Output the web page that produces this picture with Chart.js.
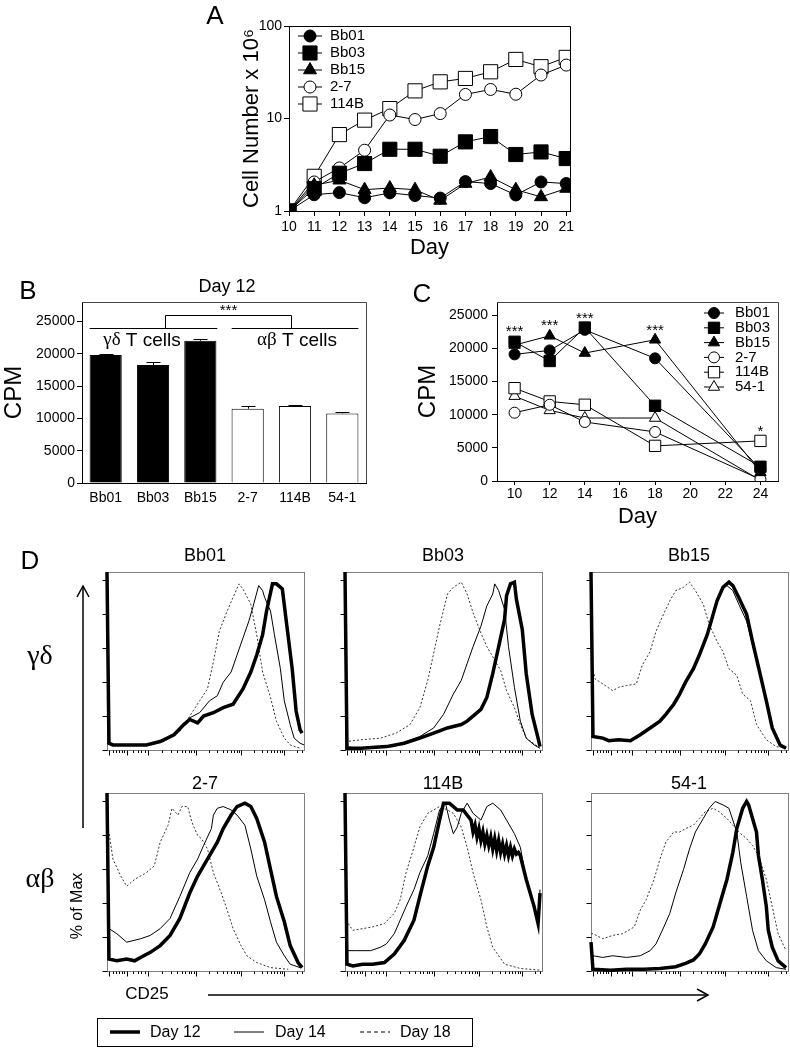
<!DOCTYPE html>
<html>
<head>
<meta charset="utf-8">
<script src="https://cdn.jsdelivr.net/npm/chart.js@4.4.0/dist/chart.umd.min.js"></script>
<style>
  body { margin:0; width:790px; height:1048px; position:relative; overflow:hidden; background:#fff;
         font-family:'Liberation Sans', Arial, sans-serif; color:#000; }
  canvas { position:absolute; }
  .t { position:absolute; transform:translate(-50%,-50%); white-space:nowrap; line-height:1; }
  .l { position:absolute; transform:translate(0,-50%); white-space:nowrap; line-height:1; }
  .serif { font-family:'Liberation Serif','Times New Roman',serif; }
  svg { position:absolute; left:0; top:0; }
</style>
</head>
<body>
<canvas id="chA" width="390" height="261" style="left:200px;top:0"></canvas>
<canvas id="chB" width="380" height="250" style="left:0;top:270px"></canvas>
<canvas id="chC" width="380" height="250" style="left:410px;top:280px"></canvas>
<canvas id="dBb01" width="207" height="188" style="left:99px;top:570px"></canvas>
<canvas id="dBb03" width="207" height="188" style="left:337px;top:570px"></canvas>
<canvas id="dBb15" width="207" height="188" style="left:583px;top:570px"></canvas>
<canvas id="d27" width="207" height="188" style="left:99px;top:791px"></canvas>
<canvas id="d114B" width="207" height="188" style="left:337px;top:791px"></canvas>
<canvas id="d541" width="207" height="188" style="left:583px;top:791px"></canvas>

<svg width="790" height="1048">
  <line x1="83" y1="828" x2="83" y2="586" stroke="#000" stroke-width="1.5"/>
  <polyline points="77,597 83,586 89,597" fill="none" stroke="#000" stroke-width="1.5"/>
  <line x1="208" y1="995" x2="708" y2="995" stroke="#000" stroke-width="1.5"/>
  <polyline points="697,989 708,995 697,1001" fill="none" stroke="#000" stroke-width="1.5"/>
  <rect x="97.5" y="1018.5" width="375" height="28" fill="none" stroke="#000" stroke-width="1"/>
  <line x1="110" y1="1032" x2="140" y2="1032" stroke="#000" stroke-width="3.5"/>
  <line x1="234" y1="1032" x2="264" y2="1032" stroke="#000" stroke-width="1"/>
  <line x1="360" y1="1032" x2="390" y2="1032" stroke="#000" stroke-width="1" stroke-dasharray="4,3"/>
</svg>

<div class="t" style="left:215px;top:15px;font-size:26px">A</div>
<div class="t" style="left:28px;top:290px;font-size:26px">B</div>
<div class="t" style="left:422px;top:293px;font-size:26px">C</div>
<div class="t" style="left:30px;top:560px;font-size:26px">D</div>

<div class="t" style="left:205px;top:555px;font-size:18px">Bb01</div>
<div class="t" style="left:443px;top:555px;font-size:18px">Bb03</div>
<div class="t" style="left:689px;top:555px;font-size:18px">Bb15</div>
<div class="t" style="left:205px;top:783px;font-size:18px">2-7</div>
<div class="t" style="left:443px;top:783px;font-size:18px">114B</div>
<div class="t" style="left:689px;top:783px;font-size:18px">54-1</div>

<div class="t serif" style="left:40px;top:655px;font-size:28px">γδ</div>
<div class="t serif" style="left:40px;top:878px;font-size:28px">αβ</div>
<div class="t" style="left:77px;top:906px;font-size:16px;transform:translate(-50%,-50%) rotate(-90deg)">% of Max</div>
<div class="t" style="left:147px;top:993px;font-size:17px">CD25</div>

<div class="l" style="left:150px;top:1032px;font-size:16px">Day 12</div>
<div class="l" style="left:275px;top:1032px;font-size:16px">Day 14</div>
<div class="l" style="left:400px;top:1032px;font-size:16px">Day 18</div>

<script>
// ---- Panel A: cell expansion (log scale) ----
const daysA = [10, 11, 12, 13, 14, 15, 16, 17, 18, 19, 20, 21];
const bb01A = [1, 1.5, 1.58, 1.39, 1.57, 1.47, 1.38, 2.08, 1.98, 1.49, 2.06, 1.98];
const bb03A = [1, 1.75, 2.56, 3.26, 4.65, 4.65, 3.91, 5.59, 6.38, 4.08, 4.35, 3.69];
const bb15A = [1, 1.9, 2.15, 1.7, 1.77, 1.7, 1.3, 1.98, 2.33, 1.7, 1.42, 1.75];
const c27A = [1, 2.06, 2.92, 4.54, 10.9, 9.75, 11.3, 18.2, 20.6, 18.3, 29.5, 37.8];
const c114bA = [1, 2.37, 6.7, 9.6, 12.8, 19.9, 24.9, 27.1, 32.0, 43.5, 36.3, 45.8];
const yTicksA = [1, 10, 100];

// ---- Panel B: Day 12 CPM ----
const catsB = ['Bb01', 'Bb03', 'Bb15', '2-7', '114B', '54-1'];
const cpmB = [19800, 18270, 22000, 11490, 11900, 10770];
const semB = [200, 450, 200, 450, 150, 250];
const yTicksB = [0, 5000, 10000, 15000, 20000, 25000];

// ---- Panel C: CPM over time ----
const daysC = [10, 12, 14, 18, 24];
const bb01C = [19100, 19700, 22800, 18500, 1800];
const bb03C = [21000, 18100, 23150, 11350, 2150];
const bb15C = [20500, 21900, 19300, 21300, 1300];
const c27C = [10300, 11500, 8900, 7400, 250];
const c114bC = [14000, 12000, 11500, 5300, 6050];
const c541C = [12800, 10650, 9500, 9500, 100];
const xTicksC = [10, 12, 14, 16, 18, 20, 22, 24];
const yTicksC = [0, 5000, 10000, 15000, 20000, 25000];
const starDaysC = [10, 12, 14, 18, 24];
const starCpmC = [23100, 24000, 25050, 23250, 8000];
const starTextC = ['***', '***', '***', '***', '*'];

// ---- Panel D: CD25 histograms, [channel %, % of max] ----
const bb01D12 = [[0,105],[1,4],[3,3],[10,3],[20,3],[27,5],[34,9],[39,15],[42,18],[46,16],[49,20],[54,22],[59,25],[64,27],[69,36],[73,46],[76,56],[79,68],[81,82],[84,98],[86,98],[89,95],[91,76],[94,48],[96,23],[98,12],[99,10]];
const bb01D14 = [[0,4],[3,3],[10,3],[20,3],[27,5],[34,9],[39,15],[42,19],[47,22],[52,29],[56,32],[59,40],[63,46],[66,56],[69,66],[72,76],[74,84],[77,97],[79,94],[80,90],[83,82],[85,68],[88,48],[90,29],[93,15],[95,7],[98,4],[100,3]];
const bb01D18 = [[0,4],[3,3],[12,3],[20,3.5],[29,5],[37,11],[42,20],[47,29],[51,36],[54,52],[57,70],[61,82],[64,90],[67,98],[69,95],[73,86],[76,68],[79,46],[83,31],[86,17],[90,7],[93,3],[98,1]];

const bb03D12 = [[0,105],[1,1],[8,1],[21,2],[30,4],[38,7],[45,10],[52,13],[59,15],[62,17],[65,20],[69,24],[72,31],[75,45],[78,61],[81,77],[82,91],[84,98],[86,99],[87,89],[90,71],[92,45],[95,21],[98,7],[99,2]];
const bb03D14 = [[0,2],[8,1],[13,1],[25,2],[31,5],[38,8],[45,13],[50,21],[55,33],[59,41],[62,51],[65,61],[69,73],[72,85],[75,92],[76,98],[78,94],[81,83],[83,61],[86,37],[89,17],[92,7],[96,3],[99,1]];
const bb03D18 = [[0,5],[1,5],[8,6],[18,7],[26,10],[33,15],[38,25],[42,41],[45,57],[48,73],[52,92],[55,96],[59,99],[62,92],[65,81],[69,69],[72,61],[75,55],[79,47],[82,35],[86,25],[89,15],[92,7],[98,2]];

const bb15D12 = [[0,105],[1,8],[6,7],[9,5.5],[14,6],[20,5.5],[25,9],[30,13],[35,17],[38,21],[42,27],[45,33],[48,40],[52,48],[55,56],[59,68],[62,80],[64,88],[67,96],[70,99],[72,97],[75,90],[79,80],[82,64],[86,44],[89,29],[92,13],[96,3],[99,1]];
const bb15D14 = [[0,8],[1,8],[6,7],[9,6],[14,6],[20,6],[25,9],[30,13],[35,17],[38,21],[42,26],[45,33],[48,40],[52,48],[55,57],[59,69],[62,81],[64,89],[67,95],[69,97],[72,94],[75,86],[79,76],[82,62],[86,43],[89,28],[92,13],[96,3],[99,1]];
const bb15D18 = [[0,54],[2,42],[6,39],[11,35],[14,37],[18,38],[23,39],[26,50],[30,58],[33,70],[36,78],[40,88],[43,94],[47,96],[50,99],[53,94],[57,86],[60,74],[64,64],[67,58],[70,48],[74,44],[77,33],[81,29],[84,15],[89,6],[94,2],[99,1]];

const c27D12 = [[0,105],[1,7],[5,6],[10,7],[14,6],[17,8],[22,11],[27,15],[32,21],[37,31],[42,46],[46,56],[49,62],[53,70],[56,76],[59,84],[63,92],[66,97],[70,99],[73,97],[76,90],[80,76],[83,60],[86,44],[90,29],[93,15],[97,5],[99,2]];
const c27D14 = [[0,25],[1,25],[5,22],[10,17],[17,19],[22,21],[27,25],[32,31],[37,44],[42,58],[46,66],[49,74],[53,84],[54,92],[56,96],[59,97],[63,95],[66,92],[70,86],[73,72],[76,56],[80,42],[83,29],[86,17],[90,9],[93,4],[98,2]];
const c27D18 = [[0,82],[1,82],[3,66],[7,56],[10,50],[14,54],[17,56],[20,58],[24,62],[27,76],[31,86],[33,96],[36,92],[38,97],[41,97],[43,88],[46,80],[48,78],[51,72],[54,58],[58,46],[61,36],[64,25],[68,15],[71,9],[76,5],[83,2],[92,1]];

const c114bD12 = [[0,105],[1,4],[4,3],[9,4],[14,4],[20,5],[25,10],[30,18],[35,30],[38,44],[42,62],[45,73],[48,89],[50,99],[53,99],[57,95],[60,95],[64,89],[65,82],[66,86],[67,79],[68,84],[69,77],[70,82],[71,75],[72,80],[73,74],[74,79],[75,72],[76,78],[77,71],[78,77],[79,70],[80,75],[81,69],[82,74],[83,68],[84,73],[85,68],[86,72],[87,69],[88,70],[89,68],[92,54],[96,38],[98,28],[99,46]];
const c114bD14 = [[0,12],[1,12],[6,12],[13,12],[18,14],[21,16],[25,22],[28,30],[31,38],[35,48],[38,58],[42,68],[45,81],[48,95],[51,99],[53,89],[55,81],[57,85],[59,93],[62,99],[65,93],[69,89],[72,97],[75,99],[79,95],[82,89],[86,81],[89,73],[92,54],[96,38],[98,30],[99,48]];
const c114bD18 = [[0,29],[1,29],[4,24],[9,25],[14,26],[20,28],[25,34],[28,42],[31,58],[35,73],[38,85],[42,93],[45,95],[48,97],[52,95],[55,93],[59,85],[62,73],[65,58],[69,42],[72,26],[75,14],[81,4],[89,1.5],[99,0.5]];

const c541D12 = [[0,17],[1,1],[10,0.5],[18,1],[27,1],[35,1.5],[43,2.5],[48,4.5],[52,6.5],[55,10],[58,16],[62,26],[65,38],[69,54],[72,70],[74,84],[77,96],[79,100],[80,98],[82,90],[84,82],[85,68],[87,54],[89,38],[90,24],[92,14],[95,6],[99,2]];
const c541D14 = [[0,9],[1,9],[6,8],[11,9],[18,8],[25,9],[30,12],[33,16],[37,26],[40,34],[43,46],[47,60],[50,72],[53,82],[57,90],[60,96],[63,100],[67,98],[70,96],[74,82],[76,64],[79,44],[82,24],[85,12],[89,6],[94,2],[99,1]];
const c541D18 = [[0,22],[1,22],[6,19],[11,21],[16,22],[22,26],[25,36],[28,42],[32,54],[35,66],[38,76],[42,82],[45,82],[48,84],[52,86],[55,90],[58,94],[62,96],[65,94],[69,90],[72,86],[75,82],[79,78],[82,74],[85,68],[89,54],[92,38],[95,22],[99,12]];

const yTicksD = [0, 20, 40, 60, 80, 100];
const xMajorD = [1, 10, 21, 45, 68, 90];
const xMinorD = [3, 4.5, 6, 7.5, 8.5, 13, 15.5, 17.5, 19.5, 28, 32.5, 35.5, 38, 39.5, 41.5, 42.5, 44,
                 52, 56, 59, 61, 63, 64.5, 66, 67, 74.5, 78.5, 81, 83.5, 85, 86.5, 88, 89, 96.5, 99];

Chart.defaults.font.family = "'Liberation Sans', Arial, sans-serif";
Chart.defaults.color = '#000';
const FONT = "'Liberation Sans', Arial, sans-serif";

const markers = {
  bb01: { pointStyle: 'circle', fill: '#000' },
  bb03: { pointStyle: 'rect', fill: '#000' },
  bb15: { pointStyle: 'triangle', fill: '#000' },
  c27: { pointStyle: 'circle', fill: '#fff' },
  c114b: { pointStyle: 'rect', fill: '#fff' },
  c541: { pointStyle: 'triangle', fill: '#fff' }
};

function lineSet(label, key, xs, ys, radii) {
  const m = markers[key];
  return {
    label: label,
    data: xs.map((x, i) => ({ x: x, y: ys[i] })),
    borderColor: '#000', borderWidth: 1,
    pointStyle: m.pointStyle,
    pointRadius: radii[m.pointStyle],
    pointBackgroundColor: m.fill, pointBorderColor: '#000', pointBorderWidth: 1,
    tension: 0, fill: false
  };
}

// frame lines on top and right of plot area
const frame = {
  id: 'frame',
  afterDatasetsDraw(chart, args, opts) {
    const { ctx, chartArea: a } = chart;
    ctx.save();
    ctx.strokeStyle = opts.color || '#333';
    ctx.lineWidth = 1;
    ctx.beginPath();
    ctx.moveTo(a.left, Math.round(a.top) + 0.5);
    ctx.lineTo(Math.round(a.right) + 0.5, Math.round(a.top) + 0.5);
    ctx.lineTo(Math.round(a.right) + 0.5, a.bottom);
    ctx.stroke();
    ctx.restore();
  }
};

// legend with line + marker
function markerLegend(cfg) {
  return {
    id: 'markerLegend',
    afterDraw(chart) {
      const ctx = chart.ctx;
      ctx.save();
      chart.data.datasets.forEach((ds, i) => {
        const y = cfg.y0 + i * cfg.dy;
        ctx.strokeStyle = '#000';
        ctx.lineWidth = 1;
        ctx.beginPath();
        ctx.moveTo(cfg.x - cfg.half, y);
        ctx.lineTo(cfg.x + cfg.half, y);
        ctx.stroke();
        ctx.fillStyle = ds.pointBackgroundColor;
        Chart.helpers.drawPoint(ctx, { pointStyle: ds.pointStyle, radius: ds.pointRadius, rotation: 0, borderWidth: 1 }, cfg.x, y);
        ctx.fillStyle = '#000';
        ctx.font = cfg.font;
        ctx.textBaseline = 'middle';
        ctx.textAlign = 'left';
        ctx.fillText(ds.label, cfg.tx, y);
      });
      ctx.restore();
    }
  };
}

const base = { responsive: false, animation: false, events: [],
               plugins: { legend: { display: false }, tooltip: { enabled: false } } };

// ---------- A ----------
const radiiA = { circle: 6, rect: 10, triangle: 7.5 };
new Chart(document.getElementById('chA'), {
  type: 'line',
  data: { datasets: [
    lineSet('Bb01', 'bb01', daysA, bb01A, radiiA),
    lineSet('Bb03', 'bb03', daysA, bb03A, radiiA),
    lineSet('Bb15', 'bb15', daysA, bb15A, radiiA),
    lineSet('2-7', 'c27', daysA, c27A, radiiA),
    lineSet('114B', 'c114b', daysA, c114bA, radiiA)
  ] },
  options: Object.assign({}, base, {
    layout: { padding: { top: 26, right: 20, left: 0, bottom: 0 } },
    plugins: Object.assign({}, base.plugins, { frame: { color: '#000' } }),
    scales: {
      x: { type: 'linear', min: 10, max: 21.15,
           afterBuildTicks: s => { s.ticks = daysA.map(v => ({ value: v })); },
           grid: { drawOnChartArea: false, tickLength: 5, color: '#000' },
           border: { color: '#000' },
           ticks: { font: { size: 14 }, padding: 3, color: '#000' },
           title: { display: true, text: 'Day', font: { size: 22 }, padding: 0 },
           afterFit: s => { s.height = 50; } },
      y: { type: 'logarithmic', min: 1, max: 100,
           afterBuildTicks: s => { s.ticks = yTicksA.map(v => ({ value: v })); },
           grid: { drawOnChartArea: false, tickLength: 5, color: '#000' },
           border: { color: '#000' },
           ticks: { font: { size: 14 }, padding: 2, color: '#000', callback: v => String(v) },
           title: { display: true, text: 'Cell Number x 10⁶', font: { size: 22 }, padding: { top: 39, bottom: 0 } },
           afterFit: s => { s.width = 89; } }
    }
  }),
  plugins: [frame, markerLegend({ x: 110, y0: 36, dy: 17, half: 12, tx: 130, font: '15px ' + FONT })]
});

// ---------- B ----------
const annB = {
  id: 'annB',
  afterDatasetsDraw(chart) {
    const { ctx, scales: { x, y } } = chart;
    const meta = chart.getDatasetMeta(0);
    ctx.save();
    ctx.strokeStyle = '#000';
    ctx.lineWidth = 1;
    // error bars (upper)
    meta.data.forEach((bar, i) => {
      const cx = Math.round(bar.x) + 0.5;
      const top = Math.round(y.getPixelForValue(cpmB[i] + semB[i])) + 0.5;
      const b = y.getPixelForValue(cpmB[i]);
      ctx.beginPath();
      ctx.moveTo(cx, b); ctx.lineTo(cx, top);
      ctx.moveTo(cx - 7, top); ctx.lineTo(cx + 7, top);
      ctx.stroke();
    });
    // group lines and bracket
    const px = i => x.getPixelForValue(i);
    const ly = Math.round(y.getPixelForValue(24000)) + 0.5;
    const by = Math.round(y.getPixelForValue(25950)) + 0.5;
    const bl = Math.round(px(1) + 12) + 0.5, br = Math.round(px(4) - 4) + 0.5;
    ctx.beginPath();
    ctx.moveTo(px(0) - 16, ly); ctx.lineTo(px(2) + 17, ly);
    ctx.moveTo(px(3) - 16, ly); ctx.lineTo(px(5) + 16, ly);
    ctx.moveTo(bl, ly); ctx.lineTo(bl, by); ctx.lineTo(br, by); ctx.lineTo(br, ly);
    ctx.stroke();
    ctx.fillStyle = '#000';
    ctx.textAlign = 'center';
    ctx.textBaseline = 'alphabetic';
    ctx.font = '15px ' + FONT;
    ctx.fillText('***', (bl + br) / 2, by - 1);
    // group labels: serif greek + sans text
    const label = (greek, cx) => {
      const rest = ' T cells';
      ctx.font = "19px 'Liberation Serif', serif";
      const w1 = ctx.measureText(greek).width;
      ctx.font = '19px ' + FONT;
      const w2 = ctx.measureText(rest).width;
      const x0 = cx - (w1 + w2) / 2;
      ctx.textAlign = 'left';
      ctx.textBaseline = 'middle';
      ctx.font = "19px 'Liberation Serif', serif";
      ctx.fillText(greek, x0, ly + 12);
      ctx.font = '19px ' + FONT;
      ctx.fillText(rest, x0 + w1, ly + 12);
    };
    label('γδ', px(1) - 11);
    label('αβ', px(4) + 2);
    // panel title
    ctx.textAlign = 'center';
    ctx.textBaseline = 'middle';
    ctx.font = '18px ' + FONT;
    ctx.fillText('Day 12', 227, 17);
    ctx.restore();
  }
};

new Chart(document.getElementById('chB'), {
  type: 'bar',
  data: { labels: catsB, datasets: [{
    data: cpmB,
    backgroundColor: ['#000', '#000', '#000', '#fff', '#fff', '#fff'],
    borderColor: '#000', borderWidth: 1,
    barPercentage: 0.68, categoryPercentage: 1
  }] },
  options: Object.assign({}, base, {
    layout: { padding: { top: 32, right: 14, left: 0, bottom: 0 } },
    plugins: Object.assign({}, base.plugins, { frame: { color: '#444' } }),
    scales: {
      x: { grid: { display: false, drawTicks: false }, border: { color: '#000' },
           ticks: { font: { size: 14 }, padding: 7, color: '#000' },
           afterFit: s => { s.height = 37; } },
      y: { min: 0, max: 28000,
           afterBuildTicks: s => { s.ticks = yTicksB.map(v => ({ value: v })); },
           grid: { drawOnChartArea: false, tickLength: 5, color: '#000' },
           border: { color: '#000' },
           ticks: { font: { size: 14 }, padding: 2, color: '#000', callback: v => String(v) },
           title: { display: true, text: 'CPM', font: { size: 24 }, padding: 0 },
           afterFit: s => { s.width = 82; } }
    }
  }),
  plugins: [frame, annB]
});

// ---------- C ----------
const radiiC = { circle: 5.5, rect: 8, triangle: 6.5 };
const starsC = {
  id: 'starsC',
  afterDatasetsDraw(chart) {
    const { ctx, scales: { x, y } } = chart;
    ctx.save();
    ctx.fillStyle = '#000';
    ctx.font = '15px ' + FONT;
    ctx.textAlign = 'center';
    ctx.textBaseline = 'alphabetic';
    starDaysC.forEach((d, i) => {
      ctx.fillText(starTextC[i], x.getPixelForValue(d), y.getPixelForValue(starCpmC[i]) + 8);
    });
    ctx.restore();
  }
};

new Chart(document.getElementById('chC'), {
  type: 'line',
  data: { datasets: [
    lineSet('Bb01', 'bb01', daysC, bb01C, radiiC),
    lineSet('Bb03', 'bb03', daysC, bb03C, radiiC),
    lineSet('Bb15', 'bb15', daysC, bb15C, radiiC),
    lineSet('2-7', 'c27', daysC, c27C, radiiC),
    lineSet('114B', 'c114b', daysC, c114bC, radiiC),
    lineSet('54-1', 'c541', daysC, c541C, radiiC)
  ] },
  options: Object.assign({}, base, {
    layout: { padding: { top: 22, right: 12, left: 0, bottom: 0 } },
    plugins: Object.assign({}, base.plugins, { frame: { color: '#444' } }),
    scales: {
      x: { type: 'linear', min: 9, max: 25,
           afterBuildTicks: s => { s.ticks = xTicksC.map(v => ({ value: v })); },
           grid: { drawOnChartArea: false, tickLength: 4, color: '#000' },
           border: { color: '#000' },
           ticks: { font: { size: 14 }, padding: 1, color: '#000' },
           title: { display: true, text: 'Day', font: { size: 22 }, padding: 0 },
           afterFit: s => { s.height = 49; } },
      y: { min: 0, max: 27000,
           afterBuildTicks: s => { s.ticks = yTicksC.map(v => ({ value: v })); },
           grid: { drawOnChartArea: false, tickLength: 5, color: '#000' },
           border: { color: '#000' },
           ticks: { font: { size: 14 }, padding: 4, color: '#000', callback: v => String(v) },
           title: { display: true, text: 'CPM', font: { size: 24 } },
           afterFit: s => { s.width = 87; } }
    }
  }),
  plugins: [frame, starsC, markerLegend({ x: 304, y0: 33, dy: 14.8, half: 10, tx: 325, font: '15px ' + FONT })]
});

// ---------- D ----------
const flowAxes = {
  id: 'flowAxes',
  beforeDatasetsDraw(chart) {
    const { ctx, chartArea: a, scales: { x, y } } = chart;
    ctx.save();
    ctx.strokeStyle = '#808080';
    ctx.lineWidth = 1;
    ctx.strokeRect(Math.round(a.left) + 0.5, Math.round(a.top) + 0.5, Math.round(a.right - a.left), Math.round(a.bottom - a.top));
    ctx.strokeStyle = '#000';
    ctx.beginPath();
    const bx = Math.round(a.bottom) + 0.5;
    xMajorD.forEach(v => { const p = Math.round(x.getPixelForValue(v)) + 0.5; ctx.moveTo(p, bx); ctx.lineTo(p, bx + 5); });
    xMinorD.forEach(v => { const p = Math.round(x.getPixelForValue(v)) + 0.5; ctx.moveTo(p, bx); ctx.lineTo(p, bx + 2.5); });
    const lx = Math.round(a.left) + 0.5;
    yTicksD.forEach(v => { const p = Math.round(y.getPixelForValue(v)) + 0.5; ctx.moveTo(lx, p); ctx.lineTo(lx - 5, p); });
    ctx.stroke();
    ctx.restore();
  }
};

function flowChart(id, d12, d14, d18) {
  new Chart(document.getElementById(id), {
    type: 'line',
    data: { datasets: [
      { data: d12, borderColor: '#000', borderWidth: 3.5, pointRadius: 0, tension: 0, clip: false },
      { data: d14, borderColor: '#000', borderWidth: 1, pointRadius: 0, tension: 0, clip: false },
      { data: d18, borderColor: '#333', borderWidth: 1, borderDash: [2, 2], pointRadius: 0, tension: 0, clip: false }
    ] },
    options: Object.assign({}, base, {
      layout: { padding: { left: 8, top: 2, right: 2, bottom: 8 } },
      scales: {
        x: { type: 'linear', min: 0, max: 100, display: false },
        y: { min: 0, max: 105, display: false }
      }
    }),
    plugins: [flowAxes]
  });
}

flowChart('dBb01', bb01D12, bb01D14, bb01D18);
flowChart('dBb03', bb03D12, bb03D14, bb03D18);
flowChart('dBb15', bb15D12, bb15D14, bb15D18);
flowChart('d27', c27D12, c27D14, c27D18);
flowChart('d114B', c114bD12, c114bD14, c114bD18);
flowChart('d541', c541D12, c541D14, c541D18);
</script>
</body>
</html>
